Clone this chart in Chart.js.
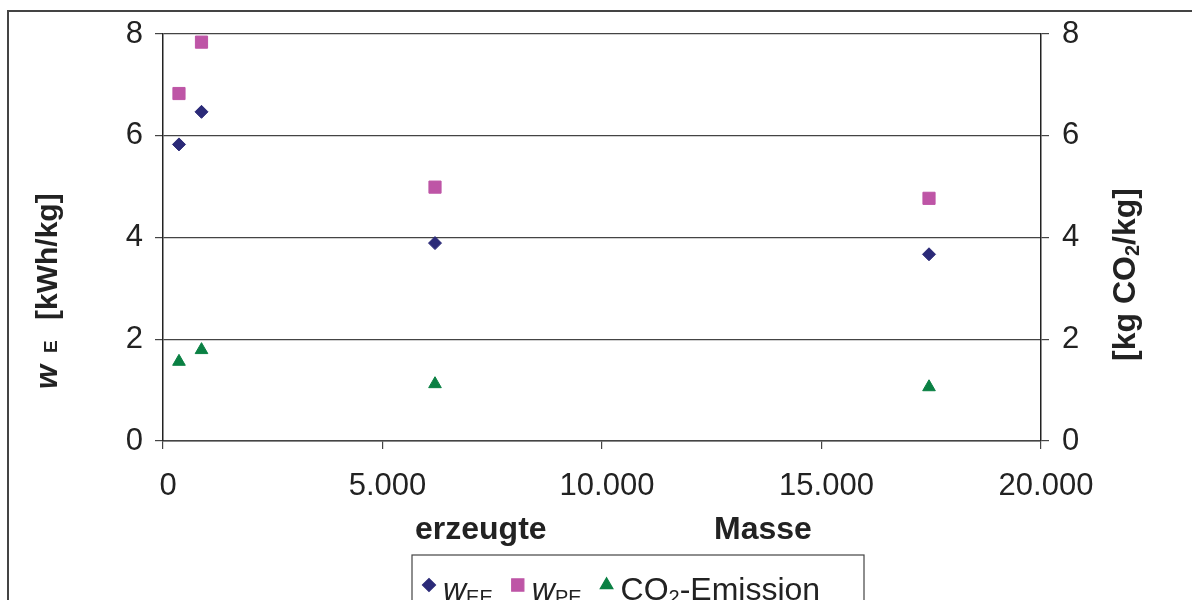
<!DOCTYPE html>
<html>
<head>
<meta charset="utf-8">
<script src="https://cdn.jsdelivr.net/npm/chart.js@4/dist/chart.umd.min.js"></script>
<style>
  body { margin: 0; background: #fff; }
  #wrap { width: 1192px; height: 600px; }
</style>
</head>
<body>
<div id="wrap"><canvas id="chart" width="1192" height="600"></canvas></div>
<script>
// data
const mass = [364, 877, 6196, 17449]
const wEE = [5.83, 6.47, 3.89, 3.67]
const wPE = [6.83, 7.84, 4.99, 4.77]
const co2 = [1.56, 1.79, 1.12, 1.06]
const xTicks = [0, 5000, 10000, 15000, 20000]
const yTicks = [0, 2, 4, 6, 8]

// text
const xTitleWords = ['erzeugte', 'Masse']
const legendLabels = [
    [['w', 'it'], ['EE', 'sub']],
    [['w', 'it'], ['PE', 'sub']],
    [['CO', ''], ['2', 'sub'], ['-Emission', '']]
]

const FONT = '"Liberation Sans", Arial, sans-serif'
const ink = '#222'
const lineColor = '#444'

const colors = ['#2B2A78', '#BE55A6', '#0A8043']
const styles = ['rectRot', 'rect', 'triangle']
const radii = [6.5, 8.6, 7.3]

const points = (ys) => mass.map((m, i) => ({ x: m, y: ys[i] }))

const formatThousands = (v) => v.toString().replace(/\B(?=(\d{3})+(?!\d))/g, '.')

// rich text helpers
const partFont = (kind, size) => {
    if (kind === 'it') return 'italic ' + size + 'px ' + FONT
    if (kind === 'sub') return Math.round(size * 0.62) + 'px ' + FONT
    return size + 'px ' + FONT
}

const drawParts = (ctx, parts, x, y, size, bold) => {
    parts.forEach(([text, kind]) => {
        ctx.font = (bold ? 'bold ' : '') + partFont(kind, size)
        ctx.fillText(text, x, y + (kind === 'sub' ? size * 0.12 : 0))
        x += ctx.measureText(text).width
    })
    return x
}

const decorations = {
    id: 'decorations',
    afterDraw(chart) {
        const ctx = chart.ctx
        ctx.save()

        // outer frame
        ctx.strokeStyle = lineColor
        ctx.lineWidth = 2
        ctx.beginPath()
        ctx.moveTo(8, 600)
        ctx.lineTo(8, 11)
        ctx.lineTo(1192, 11)
        ctx.stroke()

        ctx.fillStyle = ink
        ctx.textBaseline = 'alphabetic'
        ctx.textAlign = 'left'

        // x title
        ctx.font = 'bold 32px ' + FONT
        ctx.fillText(xTitleWords[0], 415, 539)
        ctx.fillText(xTitleWords[1], 714, 539)

        // left title
        ctx.save()
        ctx.translate(57, 389)
        ctx.rotate(-Math.PI / 2)
        ctx.font = 'italic bold 31px ' + FONT
        ctx.fillText('w', 0, 0)
        ctx.font = 'bold 19px ' + FONT
        ctx.fillText('E', 36, 0)
        ctx.font = 'bold 30px ' + FONT
        ctx.fillText('[kWh/kg]', 69, 0)
        ctx.restore()

        // right title
        ctx.save()
        ctx.translate(1135, 361)
        ctx.rotate(-Math.PI / 2)
        drawParts(ctx, [['[kg CO', ''], ['2', 'sub'], ['/kg]', '']], 0, 0, 32, true)
        ctx.restore()

        // legend
        ctx.strokeStyle = lineColor
        ctx.lineWidth = 1.2
        ctx.strokeRect(412, 555, 452, 120)
        let x = 429
        legendLabels.forEach((parts, i) => {
            ctx.fillStyle = colors[i]
            ctx.strokeStyle = colors[i]
            Chart.helpers.drawPoint(ctx, { pointStyle: styles[i], radius: radii[i], rotation: 0, borderWidth: 1 }, x, 585)
            ctx.fillStyle = ink
            x = drawParts(ctx, parts, x + 14, 600, 32, false)
            x += 25
        })

        ctx.restore()
    }
}

const makeDataset = (label, ys, i, axis) => ({
    label: label,
    data: points(ys),
    yAxisID: axis,
    pointStyle: styles[i],
    pointRadius: radii[i],
    pointHoverRadius: radii[i],
    pointBackgroundColor: colors[i],
    pointBorderColor: colors[i],
    pointBorderWidth: 1,
    showLine: false
})

const tickFont = { family: FONT, size: 31 }

const config = {
    type: 'scatter',
    data: {
        datasets: [
            makeDataset('wEE', wEE, 0, 'y'),
            makeDataset('wPE', wPE, 1, 'y'),
            makeDataset('CO2-Emission', co2, 2, 'y2')
        ]
    },
    options: {
        responsive: false,
        animation: false,
        layout: { padding: { top: 34, left: 0, right: 0, bottom: 0 } },
        plugins: {
            legend: { display: false },
            tooltip: { enabled: false }
        },
        scales: {
            x: {
                type: 'linear',
                min: xTicks[0],
                max: xTicks[xTicks.length - 1],
                afterBuildTicks: (s) => { s.ticks = xTicks.map(v => ({ value: v })) },
                afterFit: (s) => { s.height = 159 },
                grid: { drawOnChartArea: false, tickLength: 8, color: lineColor, lineWidth: 1.2 },
                border: { color: lineColor, width: 1.5 },
                ticks: {
                    color: ink,
                    font: { family: FONT, size: 31 },
                    padding: 19,
                    labelOffset: 5,
                    maxRotation: 0,
                    callback: (v) => formatThousands(v)
                }
            },
            y: {
                position: 'left',
                min: 0,
                max: 8,
                afterBuildTicks: (s) => { s.ticks = yTicks.map(v => ({ value: v })) },
                afterFit: (s) => { s.width = 163 },
                grid: { color: lineColor, lineWidth: 1.2, tickLength: 8 },
                border: { color: '#222', width: 1.5 },
                ticks: { color: ink, font: tickFont, padding: 12 }
            },
            y2: {
                position: 'right',
                min: 0,
                max: 8,
                afterBuildTicks: (s) => { s.ticks = yTicks.map(v => ({ value: v })) },
                afterFit: (s) => { s.width = 151 },
                grid: { drawOnChartArea: false, color: lineColor, lineWidth: 1.2, tickLength: 8 },
                border: { color: '#222', width: 1.5 },
                ticks: { color: ink, font: tickFont, padding: 13 }
            }
        }
    },
    plugins: [decorations]
}

const chart = new Chart(document.getElementById('chart'), config)
</script>
</body>
</html>
